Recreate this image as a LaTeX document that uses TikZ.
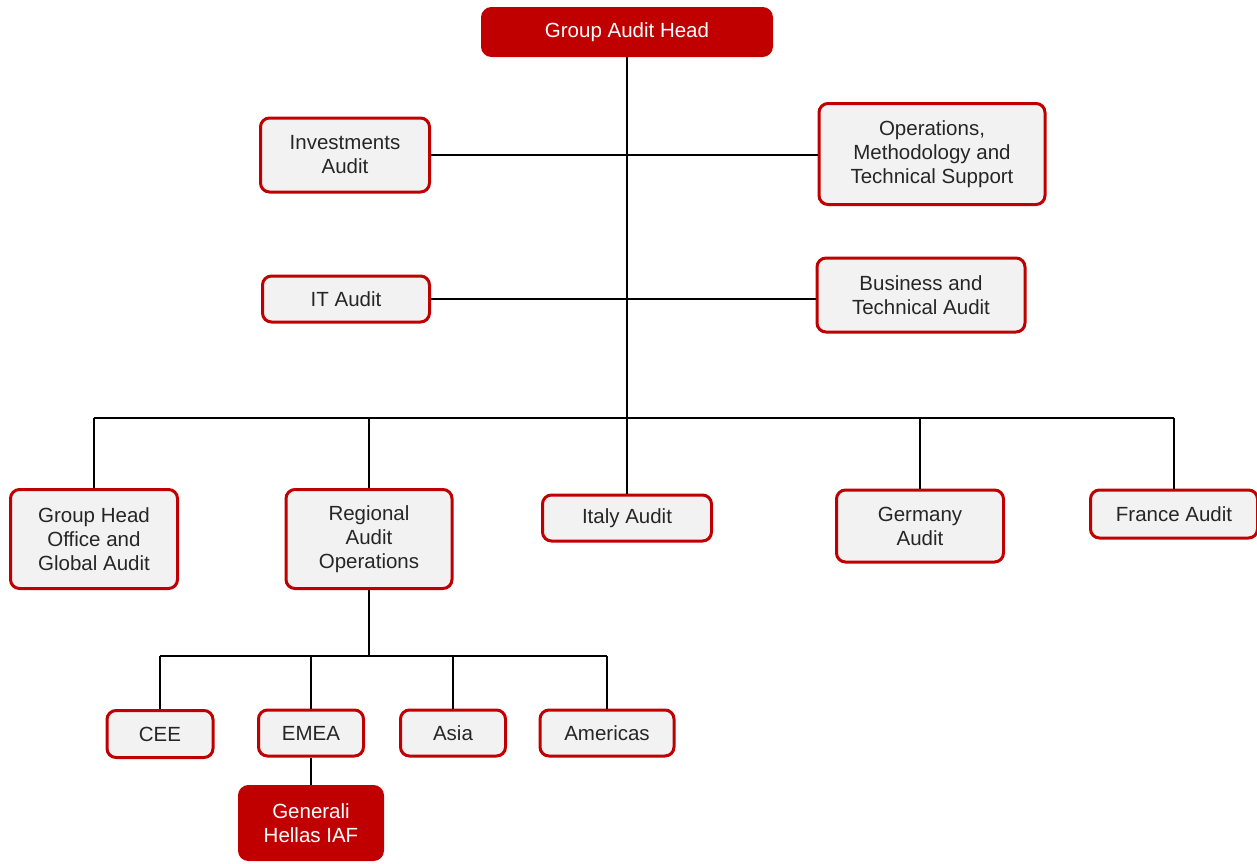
\documentclass[tikz,border=0pt]{standalone}
\usepackage{fontspec}
\setmainfont{Liberation Sans}
\usepackage{xcolor}
\definecolor{auditred}{HTML}{C00000}
\definecolor{boxgrey}{HTML}{F2F2F2}
\definecolor{textgrey}{HTML}{262626}
\tikzset{
    unit/.style={draw=auditred, fill=boxgrey, line width=3pt, rounded corners=9pt,
        align=center, text=textgrey, font=\fontsize{20.5}{24}\selectfont, inner sep=0pt},
    headunit/.style={unit, fill=auditred, text=white},
    link/.style={line width=1.5pt, black}
}

\begin{document}
\begin{tikzpicture}[x=1pt, y=-1pt]
    \useasboundingbox (0,0) rectangle (1257,863);
    % Head of the group
    \node[headunit, minimum width=289pt, minimum height=47pt] (head) at (627,32) {Group Audit Head};
    
    % Staff units
    \node[unit, minimum width=169pt, minimum height=74pt] (inv) at (345,155) {Investments\\Audit};
    \node[unit, minimum width=226pt, minimum height=101pt] (ops) at (932,154) {Operations,\\Methodology and\\Technical Support};
    \node[unit, minimum width=167pt, minimum height=46pt] (itaud) at (346,299) {IT Audit};
    \node[unit, minimum width=208pt, minimum height=74pt] (bta) at (921,295) {Business and\\Technical Audit};
    
    % Main units
    \node[unit, minimum width=167pt, minimum height=99pt] (ghoa) at (94,539) {Group Head\\Office and\\Global Audit};
    \node[unit, minimum width=166pt, minimum height=99pt] (rao) at (369,539) {Regional\\Audit\\Operations};
    \node[unit, minimum width=169pt, minimum height=46pt] (ita) at (627,518) {Italy Audit};
    \node[unit, minimum width=167pt, minimum height=72pt] (ger) at (920,526) {Germany\\Audit};
    \node[unit, minimum width=167pt, minimum height=48pt] (fra) at (1174,514) {France Audit};
    
    % Regions
    \node[unit, minimum width=106pt, minimum height=47pt] (cee) at (160,734) {CEE};
    \node[unit, minimum width=105pt, minimum height=46pt] (emea) at (311,733) {EMEA};
    \node[unit, minimum width=105pt, minimum height=46pt] (asia) at (453,733) {Asia};
    \node[unit, minimum width=134pt, minimum height=46pt] (amer) at (607,733) {Americas};
    \node[headunit, minimum width=143pt, minimum height=73pt] (hellas) at (311,823) {Generali\\Hellas IAF};
    
    % Connectors
    \coordinate (mainbus) at (628,418);
    \coordinate (regbus) at (369,656);
    \draw[link] (head.south) -- (head.south |- mainbus);
    \draw[link] (inv.east) -- (inv.east -| ops.west);
    \draw[link] (itaud.east) -- (itaud.east -| bta.west);
    \draw[link] (ghoa.north |- mainbus) -- (fra.north |- mainbus);
    \foreach \n in {ghoa,rao,ita,ger,fra}
    {
        \draw[link] (\n.north) -- (\n.north |- mainbus);
    }
    \draw[link] (rao.south) -- (regbus);
    \draw[link] (cee.north |- regbus) -- (amer.north |- regbus);
    \foreach \n in {cee,emea,asia,amer}
    {
        \draw[link] (\n.north) -- (\n.north |- regbus);
    }
    \draw[link] (emea.south) -- (hellas.north);
\end{tikzpicture}
\end{document}
